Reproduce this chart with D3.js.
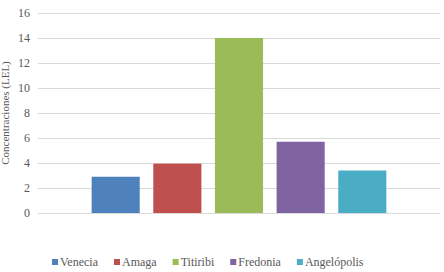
<!DOCTYPE html>
<html>
<head>
<meta charset="utf-8">
<script src="https://cdn.jsdelivr.net/npm/d3@7"></script>
<style>
  body { margin: 0; background: #fff; }
  svg text { font-family: "Liberation Serif", "Times New Roman", Times, serif; fill: #595959; }
</style>
</head>
<body>
<div id="grafico"></div>
<script>
const lugares = ["Venecia", "Amaga", "Titiribi", "Fredonia", "Angelópolis"];
const concentraciones = [2.9, 3.95, 14, 5.7, 3.4];
const colores = ["#4F81BD", "#C0504D", "#9BBB59", "#8064A2", "#4BACC6"];
const ticksY = [0, 2, 4, 6, 8, 10, 12, 14, 16];
const tituloY = "Concentraciones (LEL)";

const W = 444, H = 272;
const margin = { top: 13, right: 4, bottom: 59, left: 38 };
const width = W - margin.left - margin.right;
const height = H - margin.top - margin.bottom;
const fuente = "'Liberation Serif', 'Times New Roman', Times, serif";

const svg = d3.select("#grafico")
    .append("svg")
    .attr("width", W)
    .attr("height", H)
    .attr("font-family", fuente);

const g = svg.append("g")
    .attr("transform", `translate(${margin.left}, ${margin.top})`);

const x = d3.scaleBand()
    .domain(lugares)
    .range([0, width])
    .paddingInner(0.22)
    .paddingOuter(0.87);

const y = d3.scaleLinear()
    .domain([0, 16])
    .range([height, 0]);

// lineas de la grilla
g.selectAll(".grid")
    .data(ticksY)
    .enter()
    .append("line")
    .attr("x1", 0)
    .attr("x2", width)
    .attr("y1", d => Math.round(y(d)) + 0.5)
    .attr("y2", d => Math.round(y(d)) + 0.5)
    .attr("stroke", "#D9D9D9")
    .attr("stroke-width", 1);

// eje Y
const ejeY = g.append("g")
    .call(d3.axisLeft(y).tickValues(ticksY).tickSize(0).tickPadding(8))
    .attr("font-family", fuente)
    .attr("font-size", 12);
ejeY.select(".domain").remove();
ejeY.selectAll("text")
    .style("font-family", fuente)
    .attr("fill", "#595959");

svg.append("text")
    .attr("transform", `translate(9, ${margin.top + height / 2}) rotate(-90)`)
    .attr("text-anchor", "middle")
    .attr("font-size", "11px")
    .style("font-family", fuente)
    .text(tituloY);

// barras
g.selectAll(".bar")
    .data(lugares)
    .enter()
    .append("rect")
    .attr("class", "bar")
    .attr("x", d => x(d))
    .attr("y", (d, i) => y(concentraciones[i]))
    .attr("width", x.bandwidth())
    .attr("height", (d, i) => y(0) - y(concentraciones[i]))
    .attr("fill", (d, i) => colores[i]);

// leyenda
const leyenda = svg.append("g").attr("transform", "translate(52, 266)");
let posX = 0;
lugares.forEach((nombre, i) => {
    const item = leyenda.append("g").attr("transform", `translate(${posX}, 0)`);
    item.append("rect")
        .attr("x", 0)
        .attr("y", -7)
        .attr("width", 6)
        .attr("height", 6)
        .attr("fill", colores[i]);
    const t = item.append("text")
        .attr("x", 8)
        .attr("y", 0)
        .attr("font-size", "12px")
        .style("font-family", fuente)
        .text(nombre);
    posX += 8 + t.node().getComputedTextLength() + 16;
});
</script>
</body>
</html>
